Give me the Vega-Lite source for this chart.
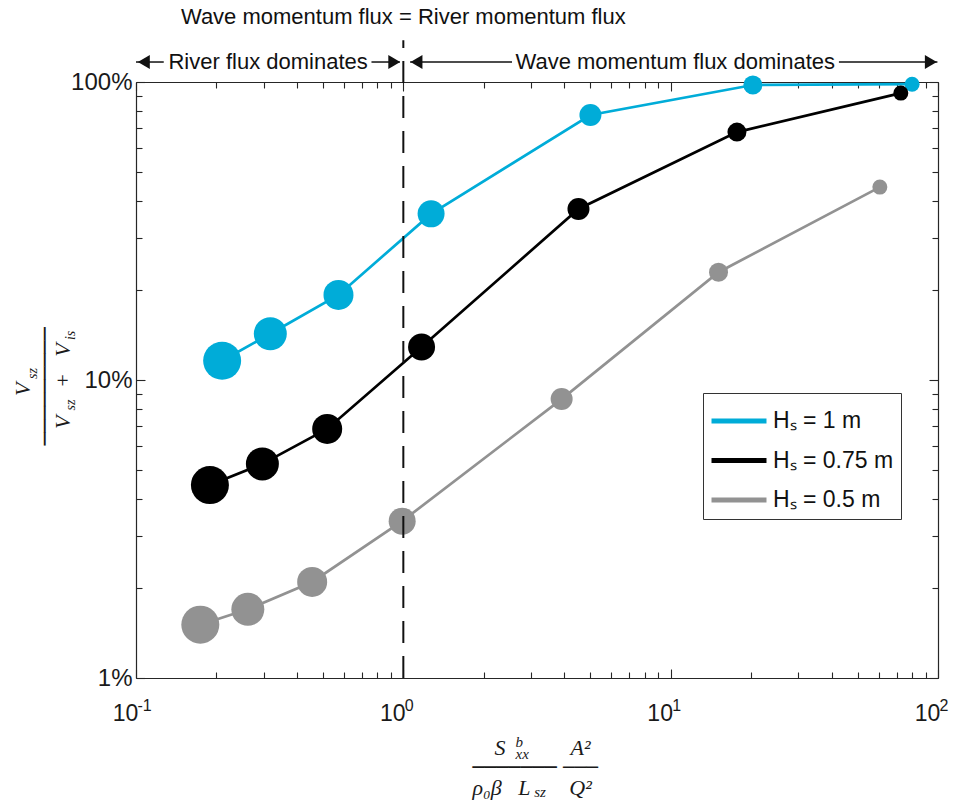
{
  "$schema": "https://vega.github.io/schema/vega-lite/v6.json",
  "width": 802,
  "height": 596,
  "autosize": {"type": "none"},
  "padding": {"left": 136, "top": 82, "right": 23, "bottom": 124},
  "background": "white",
  "config": {
    "font": "Liberation Sans",
    "view": {"stroke": null},
    "axis": {
      "grid": false,
      "domainColor": "#262626",
      "domainWidth": 1.2,
      "tickColor": "#262626",
      "tickWidth": 1.1,
      "labelColor": "#1a1a1a",
      "labelFont": "Liberation Sans",
      "labelOverlap": false,
      "labelFlush": false,
      "titleFont": "Liberation Serif",
      "titleFontStyle": "italic",
      "titleFontWeight": "normal",
      "titleColor": "#1a1a1a"
    }
  },
  "datasets": {
    "runs": [
      {"series": "Hₛ = 1 m", "run": 1, "x": 0.21, "pct": 11.6},
      {"series": "Hₛ = 1 m", "run": 2, "x": 0.318, "pct": 14.3},
      {"series": "Hₛ = 1 m", "run": 3, "x": 0.572, "pct": 19.3},
      {"series": "Hₛ = 1 m", "run": 4, "x": 1.27, "pct": 36.1},
      {"series": "Hₛ = 1 m", "run": 5, "x": 5.01, "pct": 77.5},
      {"series": "Hₛ = 1 m", "run": 6, "x": 20.3, "pct": 97.7},
      {"series": "Hₛ = 1 m", "run": 7, "x": 80, "pct": 98.3},
      {"series": "Hₛ = 0.75 m", "run": 1, "x": 0.189, "pct": 4.44},
      {"series": "Hₛ = 0.75 m", "run": 2, "x": 0.297, "pct": 5.23},
      {"series": "Hₛ = 0.75 m", "run": 3, "x": 0.519, "pct": 6.85},
      {"series": "Hₛ = 0.75 m", "run": 4, "x": 1.17, "pct": 12.9},
      {"series": "Hₛ = 0.75 m", "run": 5, "x": 4.52, "pct": 37.5},
      {"series": "Hₛ = 0.75 m", "run": 6, "x": 17.7, "pct": 67.9},
      {"series": "Hₛ = 0.75 m", "run": 7, "x": 72.6, "pct": 91.8},
      {"series": "Hₛ = 0.5 m", "run": 1, "x": 0.174, "pct": 1.51},
      {"series": "Hₛ = 0.5 m", "run": 2, "x": 0.262, "pct": 1.70},
      {"series": "Hₛ = 0.5 m", "run": 3, "x": 0.456, "pct": 2.10},
      {"series": "Hₛ = 0.5 m", "run": 4, "x": 0.99, "pct": 3.36},
      {"series": "Hₛ = 0.5 m", "run": 5, "x": 3.91, "pct": 8.63},
      {"series": "Hₛ = 0.5 m", "run": 6, "x": 15.1, "pct": 23.0},
      {"series": "Hₛ = 0.5 m", "run": 7, "x": 60.6, "pct": 44.4}
    ]
  },
  "layer": [
    {
      "data": {"name": "runs"},
      "mark": {"type": "line", "strokeWidth": 2.7},
      "encoding": {
        "x": {
          "field": "x", "type": "quantitative",
          "scale": {"type": "log", "domain": [0.1, 100], "nice": false},
          "axis": {
            "orient": "bottom",
            "values": [0.1, 0.2, 0.3, 0.4, 0.5, 0.6, 0.7, 0.8, 0.9, 1, 2, 3, 4, 5, 6, 7, 8, 9, 10, 20, 30, 40, 50, 60, 70, 80, 90, 100],
            "labelExpr": "indexof([0.1, 1, 10, 100], datum.value) >= 0 ? '10' : ''",
            "labelFontSize": 23,
            "labelPadding": 33,
            "labelOffset": -11,
            "tickSize": {"condition": {"test": "indexof([0.1, 1, 10, 100], datum.value) >= 0", "value": -9}, "value": -6},
            "title": ["\u200b\u00a0\u00a0\u00a0\u00a0S", "\u200b", "ρ₀β\u00a0\u00a0\u00a0L"],
            "titleFontSize": 22,
            "titleLineHeight": 20,
            "titleAlign": "left",
            "titleBaseline": "middle",
            "titleX": 336,
            "titleY": 69
          }
        },
        "y": {
          "field": "pct", "type": "quantitative",
          "scale": {"type": "log", "domain": [1, 100], "nice": false},
          "axis": {
            "orient": "left",
            "values": [1, 2, 3, 4, 5, 6, 7, 8, 9, 10, 20, 30, 40, 50, 60, 70, 80, 90, 100],
            "labelExpr": "indexof([1, 10, 100], datum.value) >= 0 ? datum.value + '%' : ''",
            "labelFontSize": 24,
            "labelPadding": 13,
            "tickSize": {"condition": {"test": "indexof([1, 10, 100], datum.value) >= 0", "value": -9}, "value": -6},
            "title": [
              "\u200b\u00a0\u00a0\u00a0\u00a0\u00a0\u00a0\u00a0\u00a0\u00a0V",
              "\u200b",
              "\u200b\u00a0\u00a0\u00a0V\u00a0\u00a0\u00a0\u00a0\u00a0+\u00a0\u00a0\u00a0V"
            ],
            "titleFontSize": 22,
            "titleLineHeight": 20,
            "titleAngle": 270,
            "titleAlign": "left",
            "titleBaseline": "middle",
            "titleX": -114,
            "titleY": 363
          }
        },
        "color": {
          "field": "series", "type": "nominal",
          "scale": {"domain": ["Hₛ = 1 m", "Hₛ = 0.75 m", "Hₛ = 0.5 m"], "range": ["#00acd8", "#000000", "#929292"]},
          "legend": {
            "orient": "none",
            "legendX": 567,
            "legendY": 311,
            "title": null,
            "symbolType": "M-1.5,0H1.5",
            "symbolSize": 1344,
            "symbolStrokeWidth": 5,
            "symbolOffset": 8,
            "labelFontSize": 23,
            "labelFont": "Liberation Sans",
            "labelColor": "#111",
            "labelOffset": 13,
            "fillColor": "white",
            "strokeColor": "#333",
            "padding": 7,
            "rowPadding": 6.5
          }
        }
      }
    },
    {
      "data": {"name": "runs"},
      "mark": {"type": "circle", "opacity": 1},
      "encoding": {
        "x": {
          "field": "x", "type": "quantitative",
          "scale": {"type": "log", "domain": [0.1, 100], "nice": false},
          "axis": {
            "orient": "top",
            "values": [0.1, 0.2, 0.3, 0.4, 0.5, 0.6, 0.7, 0.8, 0.9, 1, 2, 3, 4, 5, 6, 7, 8, 9, 10, 20, 30, 40, 50, 60, 70, 80, 90, 100],
            "labels": false,
            "title": null,
            "tickSize": {"condition": {"test": "indexof([0.1, 1, 10, 100], datum.value) >= 0", "value": -9}, "value": -6}
          }
        },
        "y": {
          "field": "pct", "type": "quantitative",
          "scale": {"type": "log", "domain": [1, 100], "nice": false},
          "axis": {
            "orient": "right",
            "values": [1, 2, 3, 4, 5, 6, 7, 8, 9, 10, 20, 30, 40, 50, 60, 70, 80, 90, 100],
            "labels": false,
            "title": null,
            "tickSize": {"condition": {"test": "indexof([1, 10, 100], datum.value) >= 0", "value": -9}, "value": -6}
          }
        },
        "color": {"field": "series", "type": "nominal", "legend": null},
        "size": {
          "field": "run", "type": "ordinal",
          "scale": {"type": "ordinal", "domain": [1, 2, 3, 4, 5, 6, 7], "range": [1444, 1089, 900, 729, 484, 361, 225]},
          "legend": null
        }
      }
    },
    {
      "data": {"values": [{"x": 1, "lo": 1, "hi": 138}]},
      "mark": {"type": "rule", "strokeDash": [22, 13], "strokeWidth": 2, "color": "#111", "clip": false},
      "encoding": {
        "x": {
          "field": "x", "type": "quantitative",
          "axis": {
            "orient": "bottom",
            "domain": false,
            "ticks": false,
            "values": [0.1, 1, 10, 100],
            "labelExpr": "datum.value == 0.1 ? '-1' : datum.value == 1 ? '0' : datum.value == 10 ? '1' : '2'",
            "labelAlign": "left",
            "labelOffset": 1,
            "labelFontSize": 16,
            "labelPadding": 19,
            "title": ["b", "xx", "\u200b", "\u200b", "\u200b\u00a0\u00a0\u00a0\u00a0\u00a0sz"],
            "titleFontSize": 15,
            "titleLineHeight": 12.5,
            "titleAlign": "left",
            "titleBaseline": "middle",
            "titleX": 379,
            "titleY": 63
          }
        },
        "y": {
          "field": "lo", "type": "quantitative",
          "axis": {
            "orient": "left",
            "domain": false,
            "ticks": false,
            "labels": false,
            "title": [
              "\u200b\u00a0\u00a0\u00a0\u00a0\u00a0\u00a0\u00a0\u00a0\u00a0sz",
              "\u200b",
              "sz\u00a0\u00a0\u00a0\u00a0\u00a0\u00a0\u00a0\u00a0\u00a0\u00a0\u00a0\u00a0\u00a0\u00a0\u00a0\u00a0\u00a0is"
            ],
            "titleFontSize": 14,
            "titleLineHeight": 19,
            "titleAngle": 270,
            "titleAlign": "left",
            "titleBaseline": "middle",
            "titleX": -104,
            "titleY": 328
          }
        },
        "y2": {"field": "hi"}
      }
    },
    {
      "data": {"values": [
        {"x": 0.1, "x2": 0.127, "pct": 116.7},
        {"x": 0.76, "x2": 0.97, "pct": 116.7},
        {"x": 1.06, "x2": 2.55, "pct": 116.7},
        {"x": 42.6, "x2": 99.5, "pct": 116.7}
      ]},
      "mark": {"type": "rule", "strokeWidth": 1.5, "color": "#111", "clip": false},
      "encoding": {
        "x": {
          "field": "x", "type": "quantitative",
          "axis": {
            "orient": "bottom",
            "domain": false,
            "ticks": false,
            "labels": false,
            "title": ["A²", "\u200b", "Q²"],
            "titleFontSize": 22,
            "titleLineHeight": 20,
            "titleAlign": "center",
            "titleBaseline": "middle",
            "titleX": 444,
            "titleY": 69
          }
        },
        "x2": {"field": "x2"},
        "y": {"field": "pct", "type": "quantitative", "axis": null}
      }
    },
    {
      "data": {"values": [
        {"x": 0.107, "pct": 116.7, "dir": "left"},
        {"x": 0.925, "pct": 116.7, "dir": "right"},
        {"x": 1.12, "pct": 116.7, "dir": "left"},
        {"x": 94, "pct": 116.7, "dir": "right"}
      ]},
      "mark": {"type": "point", "filled": true, "opacity": 1, "color": "#111", "size": 190, "clip": false},
      "encoding": {
        "x": {
          "field": "x", "type": "quantitative",
          "axis": {
            "orient": "bottom",
            "domain": false,
            "ticks": false,
            "labels": false,
            "title": "───────",
            "titleFont": "DejaVu Sans",
            "titleFontStyle": "normal",
            "titleFontSize": 20,
            "titleAlign": "left",
            "titleBaseline": "middle",
            "titleX": 336,
            "titleY": 89
          }
        },
        "y": {
          "field": "pct", "type": "quantitative",
          "axis": {
            "orient": "left",
            "domain": false,
            "ticks": false,
            "labels": false,
            "title": "─────────",
            "titleFont": "DejaVu Sans",
            "titleFontStyle": "normal",
            "titleFontSize": 21.8,
            "titleAngle": 270,
            "titleAlign": "left",
            "titleBaseline": "middle",
            "titleX": -92,
            "titleY": 363
          }
        },
        "shape": {
          "field": "dir", "type": "nominal",
          "scale": {"domain": ["left", "right"], "range": ["triangle-left", "triangle-right"]},
          "legend": null
        }
      }
    },
    {
      "data": {"values": [
        {"label": "Wave momentum flux = River momentum flux", "x": 1, "pct": 165},
        {"label": "River flux dominates", "x": 0.312, "pct": 116.7},
        {"label": "Wave momentum flux dominates", "x": 10.4, "pct": 116.7}
      ]},
      "mark": {"type": "text", "fontSize": 22, "font": "Liberation Sans", "color": "#111", "align": "center", "baseline": "middle"},
      "encoding": {
        "x": {
          "field": "x", "type": "quantitative",
          "axis": {
            "orient": "bottom",
            "domain": false,
            "ticks": false,
            "labels": false,
            "title": "───",
            "titleFont": "DejaVu Sans",
            "titleFontStyle": "normal",
            "titleFontSize": 19.4,
            "titleAlign": "center",
            "titleBaseline": "middle",
            "titleX": 444,
            "titleY": 89
          }
        },
        "y": {"field": "pct", "type": "quantitative", "axis": null},
        "text": {"field": "label"}
      }
    }
  ],
  "resolve": {"axis": {"x": "independent", "y": "independent"}}
}
